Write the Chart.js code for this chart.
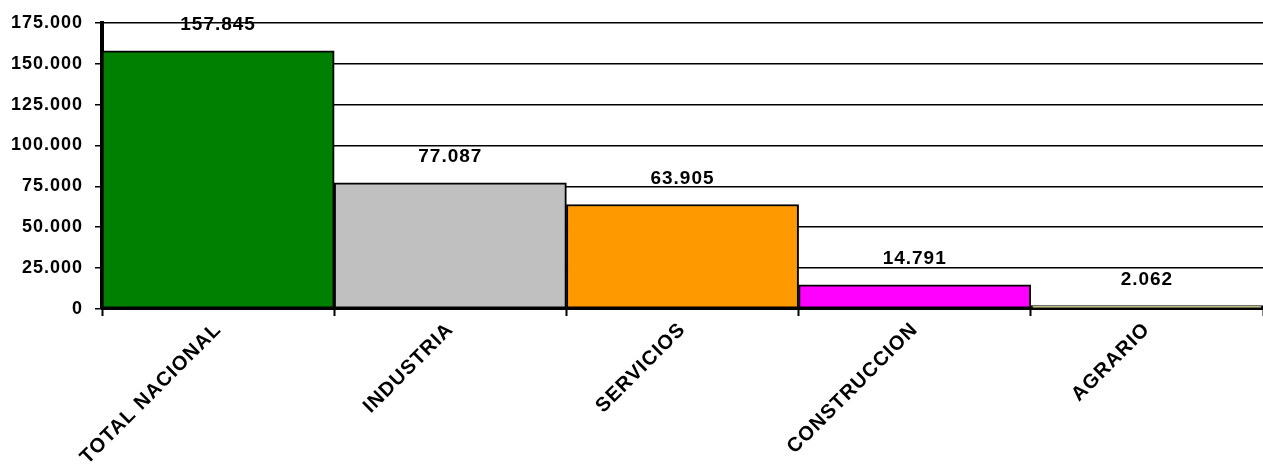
<!DOCTYPE html>
<html>
<head>
<meta charset="utf-8">
<script src="https://cdn.jsdelivr.net/npm/chart.js@4/dist/chart.umd.min.js"></script>
<style>
  html, body { margin: 0; padding: 0; background: #ffffff; }
  #wrap { width: 1263px; height: 472px; position: relative; }
</style>
</head>
<body>
<div id="wrap"><canvas id="sectorChart"></canvas></div>
<script>
const categories = ["TOTAL NACIONAL", "INDUSTRIA", "SERVICIOS", "CONSTRUCCION", "AGRARIO"];
const values = [157845, 77087, 63905, 14791, 2062];
const barColors = ["#008000", "#C0C0C0", "#FF9900", "#FF00FF", "#FFFF80"];
const yTicks = [0, 25000, 50000, 75000, 100000, 125000, 150000, 175000];

const FONT = "Arial, 'Liberation Sans', sans-serif";

function formatMiles(n) {
  return String(Math.round(n)).replace(/\B(?=(\d{3})+(?!\d))/g, ".");
}

// letter spacing on the canvas, set again before layout and draw
const spacingPlugin = {
  id: "spacing",
  beforeLayout(chart) { chart.ctx.letterSpacing = "1px"; },
  beforeDraw(chart) { chart.ctx.letterSpacing = "1px"; }
};

const valueLabels = {
  id: "valueLabels",
  afterDatasetsDraw(chart) {
    const ctx = chart.ctx;
    const meta = chart.getDatasetMeta(0);
    ctx.save();
    ctx.letterSpacing = "1px";
    ctx.font = "bold 19px " + FONT;
    ctx.fillStyle = "#000000";
    ctx.textAlign = "center";
    ctx.textBaseline = "middle";
    meta.data.forEach(function (bar, i) {
      ctx.fillText(formatMiles(values[i]), bar.x, bar.y - 26);
    });
    ctx.restore();
  }
};

new Chart(document.getElementById("sectorChart"), {
  type: "bar",
  data: {
    labels: categories,
    datasets: [{
      data: values,
      backgroundColor: barColors,
      borderColor: "#000000",
      borderWidth: 2,
      borderSkipped: false,
      barPercentage: 1,
      categoryPercentage: 1
    }]
  },
  options: {
    responsive: true,
    maintainAspectRatio: false,
    animation: false,
    layout: { padding: { top: 21, right: 0, left: 0, bottom: 0 } },
    plugins: {
      legend: { display: false },
      tooltip: { enabled: false }
    },
    scales: {
      x: {
        grid: {
          drawOnChartArea: false,
          drawTicks: true,
          tickLength: 7,
          tickWidth: 2,
          tickColor: "#000000"
        },
        border: { color: "#000000", width: 2 },
        ticks: {
          color: "#000000",
          font: { family: FONT, size: 20, weight: "bold" },
          maxRotation: 45,
          minRotation: 45,
          padding: 2,
          autoSkip: false
        },
        afterFit(scale) { scale.height = 163; }
      },
      y: {
        min: 0,
        max: 175000,
        afterBuildTicks(scale) {
          scale.ticks = yTicks.map(v => ({ value: v }));
        },
        grid: {
          color: "#000000",
          lineWidth: 1.5,
          tickLength: 7,
          tickColor: "#000000"
        },
        border: { color: "#000000", width: 4 },
        ticks: {
          color: "#000000",
          font: { family: FONT, size: 18, weight: "bold" },
          padding: 12,
          callback: v => formatMiles(v)
        },
        afterFit(scale) { scale.width = 102; }
      }
    }
  },
  plugins: [spacingPlugin, valueLabels]
});
</script>
</body>
</html>
